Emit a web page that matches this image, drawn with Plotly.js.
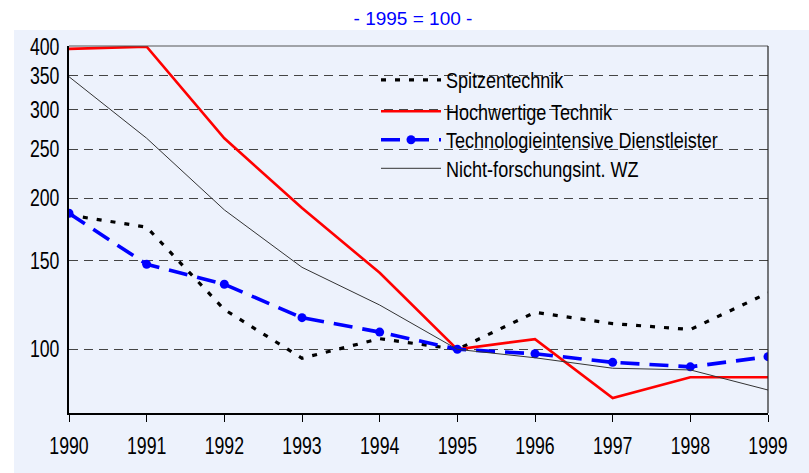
<!DOCTYPE html>
<html>
<head>
<meta charset="utf-8">
<script src="https://cdn.plot.ly/plotly-3.0.1.min.js"></script>
<style>html,body{margin:0;padding:0;background:#fff;}#chart{width:809px;height:473px;}</style>
</head>
<body>
<div id="chart"></div>
<script>
const years = [1990, 1991, 1992, 1993, 1994, 1995, 1996, 1997, 1998, 1999];
const spitzentechnik = [185, 175, 120, 96, 105, 100, 118.5, 112.5, 109.5, 129.5];
const hochwertigeTechnik = [396, 400, 263, 191, 142, 100, 104.8, 80, 88, 88];
const technologieDienstleister = [186.5, 147.6, 134.7, 115.6, 108.2, 100, 98, 94.2, 92.3, 96.7];
const nichtForschungsint = [348.6, 263, 189.4, 145.6, 122.5, 100, 96.2, 91.7, 91, 83];
const seriesNames = ["Spitzentechnik", "Hochwertige Technik", "Technologieintensive Dienstleister", "Nicht-forschungsint. WZ"];
const yTickVals = [100, 150, 200, 250, 300, 350, 400];
const titleText = "- 1995 = 100 -";

const fam = "Liberation Sans, Arial, sans-serif";
const yRange = [Math.log10(74.7), Math.log10(401.3)];

const traces = [
  {x: years, y: spitzentechnik, name: seriesNames[0], mode: "lines", legend: "legend",
   line: {color: "#000000", width: 3.2, dash: "5px,9px"}},
  {x: years, y: hochwertigeTechnik, name: seriesNames[1], mode: "lines", legend: "legend2",
   line: {color: "#FF0000", width: 2.6}},
  {x: years, y: technologieDienstleister, name: seriesNames[2], mode: "lines+markers", legend: "legend3",
   line: {color: "#0000FF", width: 3.6, dash: "19px,10px"},
   marker: {color: "#0000FF", size: 9}},
  {x: years, y: nichtForschungsint, name: seriesNames[3], mode: "lines", legend: "legend4",
   line: {color: "#333333", width: 1}}
];

function leg(yc) {
  return {x: 0.4392, y: 1 - (yc - 46) / 367, xanchor: "left", yanchor: "middle", bgcolor: "rgba(0,0,0,0)",
          font: {family: fam, size: 22, color: "#000"}, itemwidth: 60, borderwidth: 0, visible: true};
}

const layout = {
  width: 809, height: 473,
  margin: {l: 69, r: 41, t: 46, b: 60},
  paper_bgcolor: "#ffffff",
  plot_bgcolor: "rgba(0,0,0,0)",
  title: {text: titleText, font: {family: fam, size: 19, color: "#0000FF"},
          x: 0.4921, xref: "paper", y: 0.962, yref: "container", yanchor: "middle"},
  showlegend: true,
  legend: leg(80), legend2: leg(111.5), legend3: leg(140), legend4: leg(168.5),
  xaxis: {type: "linear", range: [1990, 1999], tickvals: years, ticktext: years.map(String),
          showgrid: false, zeroline: false, showline: true, linecolor: "#000", linewidth: 2,
          ticks: "outside", ticklen: 7, tickcolor: "#000", tickwidth: 1, ticklabelstandoff: 4,
          tickfont: {family: fam, size: 23, color: "#000"}, fixedrange: true},
  yaxis: {type: "log", range: yRange, tickvals: yTickVals,
          ticktext: yTickVals.map(String), showgrid: true, gridcolor: "#444", gridwidth: 1, griddash: "9px,6px",
          zeroline: false, showline: true, linecolor: "#000", linewidth: 2, ticks: "",
          ticklabelstandoff: 3,
          tickfont: {family: fam, size: 23, color: "#000"}, fixedrange: true},
  yaxis2: {type: "log", overlaying: "y", side: "right", range: yRange,
           tickvals: yTickVals, showticklabels: false, showgrid: false, zeroline: false,
           ticks: "inside", ticklen: 7, tickcolor: "#333", tickwidth: 1, showline: false, fixedrange: true},
  shapes: [
    {type: "rect", xref: "paper", yref: "paper", x0: -55/699, x1: 1.1, y0: -0.2, y1: 1 + 16/367,
     fillcolor: "#EDF2FC", line: {width: 0}, layer: "below"},
    {type: "line", xref: "paper", yref: "paper", x0: 0, x1: 1, y0: 1, y1: 1, line: {color: "#555", width: 1.2}},
    {type: "line", xref: "paper", yref: "paper", x0: 1, x1: 1, y0: 0, y1: 1, line: {color: "#222", width: 1.2}}
  ]
};

const gdEl = document.getElementById("chart");
function fit(t, f) {
  t.removeAttribute("textLength");
  t.removeAttribute("lengthAdjust");
  const L = t.getComputedTextLength();
  if (L > 0) {
    t.setAttribute("textLength", (L * f).toFixed(1));
    t.setAttribute("lengthAdjust", "spacingAndGlyphs");
  }
}
function squeezeAll() {
  gdEl.querySelectorAll(".xtick text, .ytick text").forEach(function (t) { fit(t, 0.77); });
  gdEl.querySelectorAll("text").forEach(function (t) {
    if (seriesNames.indexOf(t.textContent.trim()) >= 0) {
      t.style.fontSize = "22px";
      t.style.fontFamily = fam;
      fit(t, 0.82);
    }
  });
}

const obs = new MutationObserver(squeezeAll);
obs.observe(gdEl, {childList: true, subtree: true, characterData: true});

Plotly.newPlot(gdEl, traces, layout, {displayModeBar: false, staticPlot: true}).then(function () {
  squeezeAll();
  requestAnimationFrame(squeezeAll);
  setTimeout(squeezeAll, 30);
});
</script>
</body>
</html>
